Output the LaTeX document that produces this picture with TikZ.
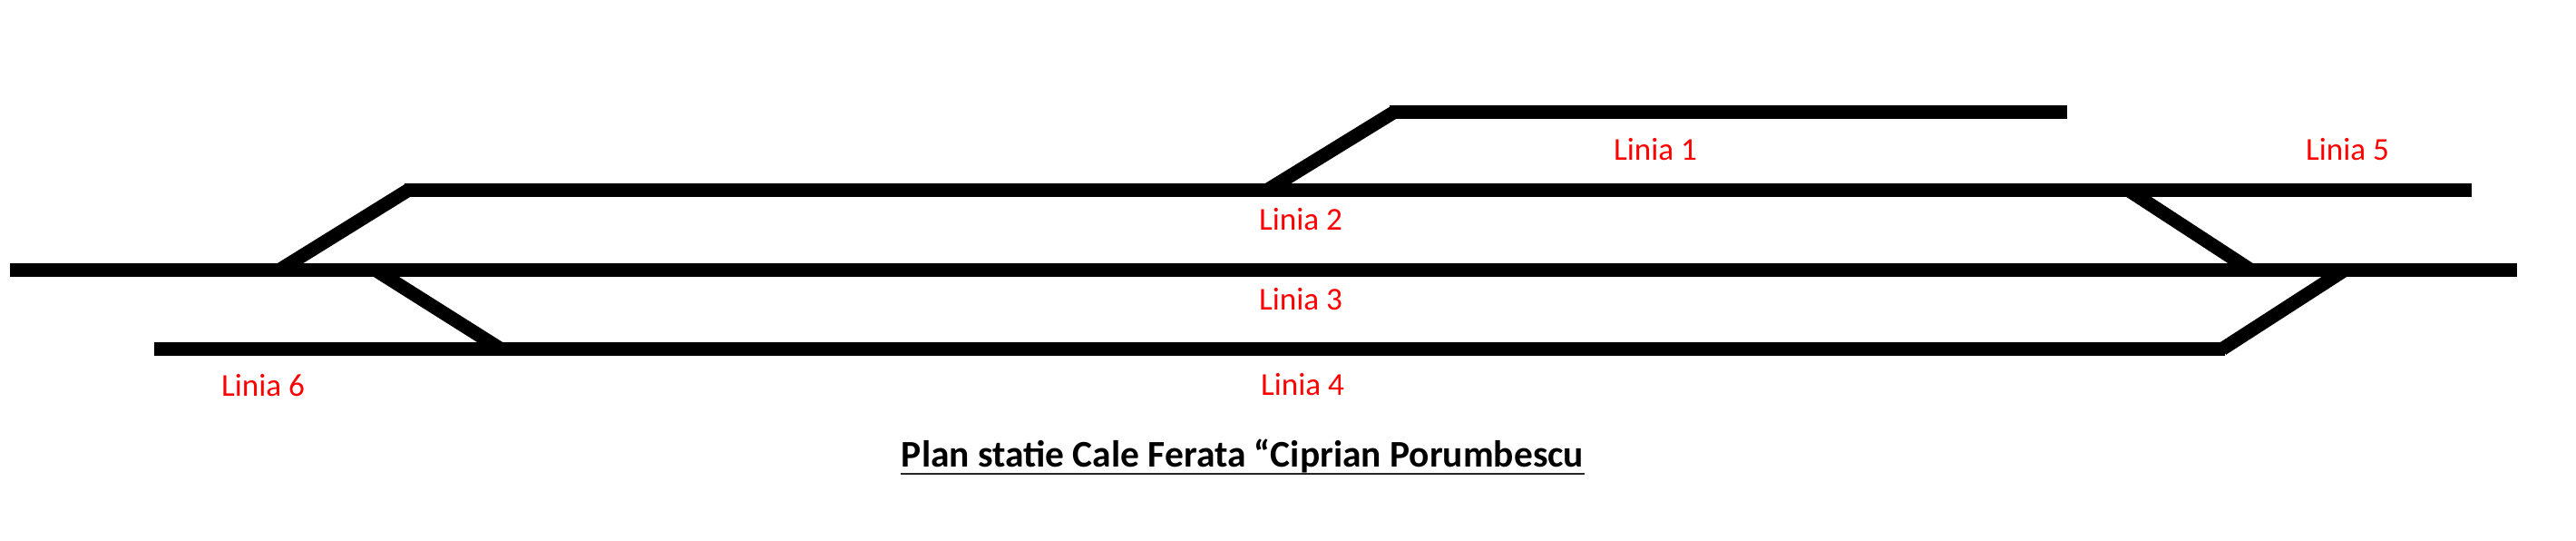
\documentclass[tikz,border=0pt]{standalone}
\usepackage{fontspec}
\setmainfont{Carlito}
\usepackage{xcolor}
\usetikzlibrary{positioning}

\begin{document}
\begin{tikzpicture}[
  track/.style={draw, line width=0.15cm, color=black},
  linelabel/.style={font=\fontsize{10}{12}\selectfont, text=red, inner sep=0pt, anchor=base},
  plantitle/.style={font=\fontsize{11.8}{14}\selectfont\bfseries, inner sep=0pt, anchor=base}
]
\useasboundingbox (0,0) rectangle (28.4,5.96);

% track ends
\coordinate (m0) at (0.11,2.985);
\coordinate (m1) at (27.75,2.985);
\coordinate (d0) at (4.46,3.865);
\coordinate (d1) at (27.25,3.865);
\coordinate (u0) at (1.70,2.115);
\coordinate (u1) at (24.53,2.115);
\coordinate (t0) at (15.32,4.725);
\coordinate (t1) at (22.79,4.725);

% switches
\coordinate (sa) at (3.08,2.985);
\coordinate (sb) at (4.50,3.865);
\coordinate (sc) at (4.14,2.985);
\coordinate (sd) at (5.52,2.115);
\coordinate (se) at (13.97,3.865);
\coordinate (sf) at (15.37,4.725);
\coordinate (sg) at (23.465,3.865);
\coordinate (sh) at (24.815,2.985);
\coordinate (si) at (25.85,2.985);
\coordinate (sj) at (24.50,2.115);

\draw[track] (m0) -- (m1);
\draw[track] (d0) -- (d1);
\draw[track] (u0) -- (u1);
\draw[track] (t0) -- (t1);

\draw[track] (sa) -- (sb);
\draw[track] (sc) -- (sd);
\draw[track] (se) -- (sf);
\draw[track] (sg) -- (sh);
\draw[track] (si) -- (sj);

\node[linelabel] (l1) at (18.25,4.19) {Linia 1};
\node[linelabel] (l2) at (14.34,3.42) {Linia 2};
\node[linelabel] (l3) at (14.34,2.54) {Linia 3};
\node[linelabel] (l4) at (14.36,1.60) {Linia 4};
\node[linelabel] (l5) at (25.88,4.19) {Linia 5};
\node[linelabel] (l6) at (2.90,1.59) {Linia 6};

\node[plantitle] (plan) at (13.70,0.81) {Plan statie Cale Ferata “Ciprian Porumbescu};
\draw[line width=0.025cm, color=black!85] ([yshift=-0.07cm]plan.base west) -- ([yshift=-0.07cm]plan.base east);
\end{tikzpicture}
\end{document}
